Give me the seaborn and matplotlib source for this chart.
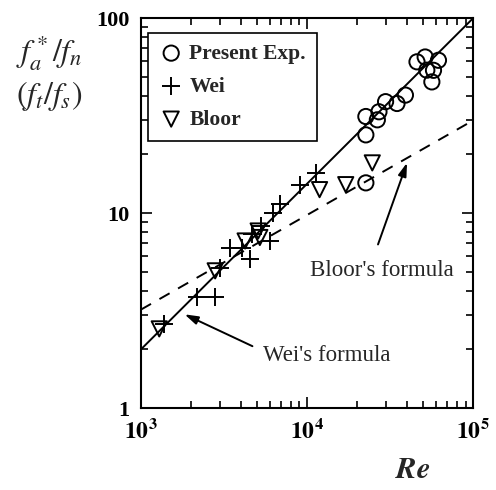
import numpy as np
import pandas as pd
import matplotlib
matplotlib.use('Agg')
import matplotlib.pyplot as plt
from matplotlib.ticker import FixedLocator, LogLocator, NullFormatter
import seaborn as sns

# Present experiment (Re, f*/fn)
exp_re = [51400, 45900, 61800, 52600, 57700, 56400, 39100, 34800, 29700,
          27100, 26500, 22600, 22600, 22600]
exp_f = [63.2, 59.7, 60.8, 54.1, 54.0, 47.1, 40.3, 36.5, 37.3,
         33.1, 30.1, 31.3, 25.2, 14.3]

# Wei
wei_re = [9020, 11400, 6860, 6250, 5320, 4640, 5970, 3440, 4050, 4540,
          3000, 2180, 2800, 1380]
wei_f = [14.0, 16.1, 11.1, 10.0, 8.6, 7.8, 7.2, 6.65, 6.65, 5.8,
         5.26, 3.70, 3.70, 2.71]

# Bloor
bloor_re = [24700, 17100, 11900, 5080, 5200, 4240, 2800, 1290]
bloor_f = [18.1, 14.0, 13.2, 8.1, 7.5, 7.2, 5.06, 2.55]

# formula lines
wei_line_re = [1e3, 1e5]
wei_line_f = [2.0, 100.0]
bloor_line_re = [1e3, 1e5]
bloor_line_f = [3.2, 29.9]

sns.set_style('ticks')
plt.rcParams['font.family'] = ['Liberation Serif', 'DejaVu Serif']
plt.rcParams['mathtext.fontset'] = 'stix'

fig = plt.figure(figsize=(4.96, 4.90), dpi=100)
ax = fig.add_axes([0.284, 0.167, 0.670, 0.796])

sns.lineplot(x=wei_line_re, y=wei_line_f, ax=ax, color='black', lw=1.4)
sns.lineplot(x=bloor_line_re, y=bloor_line_f, ax=ax, color='black', lw=1.4,
             linestyle=(0, (6, 5)))

mk = dict(ax=ax, s=120, facecolor='none', clip_on=False, zorder=3)
sns.scatterplot(x=exp_re, y=exp_f, marker='o', edgecolor='black',
                linewidth=1.4, label='Present Exp.', **mk)
sns.scatterplot(x=wei_re, y=wei_f, marker='+', color='black',
                linewidth=1.4, label='Wei', ax=ax, s=160, zorder=3)
sns.scatterplot(x=bloor_re, y=bloor_f, marker='v', edgecolor='black',
                linewidth=1.4, label='Bloor', **mk)

ax.set_xscale('log')
ax.set_yscale('log')
ax.set_xlim(1e3, 1e5)
ax.set_ylim(1, 100)

ax.xaxis.set_major_locator(FixedLocator([1e3, 1e4, 1e5]))
ax.yaxis.set_major_locator(FixedLocator([1, 10, 100]))
ax.xaxis.set_minor_locator(LogLocator(base=10, subs=np.arange(2, 10)))
ax.yaxis.set_minor_locator(LogLocator(base=10, subs=np.arange(2, 10)))
ax.xaxis.set_minor_formatter(NullFormatter())
ax.yaxis.set_minor_formatter(NullFormatter())
ax.set_xticklabels([r'$\mathbf{10^3}$', r'$\mathbf{10^4}$', r'$\mathbf{10^5}$'],
                   fontsize=17)
ax.set_yticklabels(['1', '10', '100'], fontsize=16, fontweight='bold')
ax.tick_params(which='both', direction='in', top=True, right=True, width=1.2,
               colors='black')
ax.tick_params(which='major', length=8, pad=8)
ax.tick_params(which='minor', length=5)
for sp in ax.spines.values():
    sp.set_linewidth(1.5)
    sp.set_color('black')

leg = ax.legend(loc='upper left', bbox_to_anchor=(0.02, 0.962), frameon=True,
                fancybox=False, edgecolor='black', framealpha=1,
                borderaxespad=0,
                prop={'family': 'Liberation Serif', 'weight': 'bold', 'size': 15.5},
                handletextpad=0.25, borderpad=0.5, labelspacing=0.6,
                handlelength=1.2)
leg.get_frame().set_linewidth(1.2)

ax.annotate('', xy=(40500, 18.7), xytext=(26400, 6.7),
            arrowprops=dict(arrowstyle='-|>,head_length=0.8,head_width=0.25',
                            color='black', lw=1.4))
ax.text(28300, 5.1, "Bloor's formula", fontsize=16.5, ha='center', va='center')
ax.annotate('', xy=(1770, 3.07), xytext=(4860, 2.05),
            arrowprops=dict(arrowstyle='-|>,head_length=0.8,head_width=0.25',
                            color='black', lw=1.4))
ax.text(13200, 1.87, "Wei's formula", fontsize=16.5, ha='center', va='center')

fig.text(0.100, 0.893, r'$f_a^*/f_n$', fontsize=23, ha='center', va='center')
fig.text(0.100, 0.805, r'$(f_t/f_s)$', fontsize=23, ha='center', va='center')
fig.text(0.833, 0.04, r'$\boldsymbol{Re}$', fontsize=22, ha='center', va='center')

fig.savefig('out.png', dpi=100)
